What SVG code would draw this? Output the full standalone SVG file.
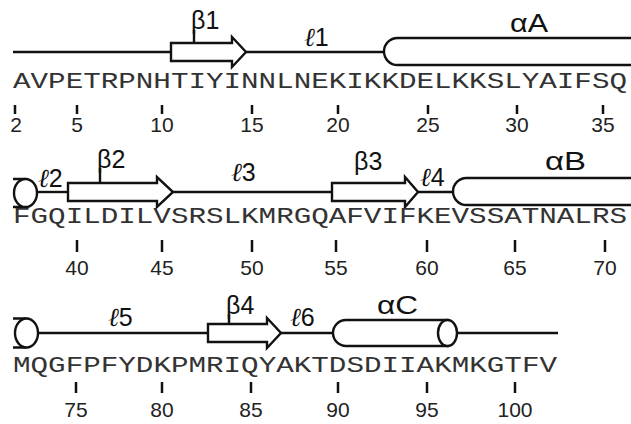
<svg xmlns="http://www.w3.org/2000/svg" width="631" height="424" viewBox="0 0 631 424">
<style>
.ln{stroke:#111;stroke-width:2.4;fill:none}
.sh{stroke:#111;stroke-width:2.4;fill:#fff}
.tk{stroke:#111;stroke-width:2.5}
.seq{font-family:"Liberation Mono","Courier New",monospace;font-size:22px;fill:#333}
.num{font-family:"Liberation Sans",Arial,sans-serif;font-size:21px;fill:#222;text-anchor:middle}
.lab{font-family:"Liberation Sans",Arial,sans-serif;font-size:25px;fill:#111}
.ell{font-family:"DejaVu Serif",serif;font-style:italic;font-size:26px}
</style>
<rect width="631" height="424" fill="#fff"/>
<g id="connectors">
<line class="ln" x1="13" y1="52" x2="171" y2="52"/>
<line class="ln" x1="246" y1="52" x2="384" y2="52"/>
<line class="ln" x1="37" y1="192" x2="68" y2="192"/>
<line class="ln" x1="173" y1="192" x2="332" y2="192"/>
<line class="ln" x1="418" y1="192" x2="453" y2="192"/>
<line class="ln" x1="38" y1="333" x2="208" y2="333"/>
<line class="ln" x1="281" y1="333" x2="333" y2="333"/>
<line class="ln" x1="457" y1="333" x2="558" y2="333"/>
</g>
<g id="beta1"><polygon class="sh" points="171,43 232,43 232,37 246,52 232,67 232,61 171,61"/><line class="ln" x1="194" y1="30" x2="194" y2="43"/><text class="lab" x="191" y="29">β1</text></g>
<g id="l1"><text class="lab" x="304" y="46"><tspan class="ell">ℓ</tspan>1</text></g>
<g id="alphaA"><path class="ln" d="M631,38 L397.5,38 A13.5,13.5 0 0 0 397.5,65 L631,65"/><text class="lab" x="510" y="32" textLength="38" lengthAdjust="spacingAndGlyphs">αA</text></g>
<g id="capB"><path class="ln" d="M13,179 L25.5,179 M13,207 L25.5,207"/><ellipse class="sh" cx="25.5" cy="193" rx="11.5" ry="14"/></g>
<g id="l2"><text class="lab" x="38" y="187"><tspan class="ell">ℓ</tspan>2</text></g>
<g id="beta2"><polygon class="sh" points="68,183 157,183 157,177 173,192 157,207 157,201 68,201"/><line class="ln" x1="100" y1="168" x2="100" y2="183"/><text class="lab" x="97" y="168">β2</text></g>
<g id="l3"><text class="lab" x="231" y="181"><tspan class="ell">ℓ</tspan>3</text></g>
<g id="beta3"><polygon class="sh" points="332,183 405,183 405,177 418,192 405,207 405,201 332,201"/><text class="lab" x="354" y="170">β3</text></g>
<g id="l4"><text class="lab" x="420" y="186"><tspan class="ell">ℓ</tspan>4</text></g>
<g id="alphaB"><path class="ln" d="M631,178 L466.5,178 A13.5,13.5 0 0 0 466.5,205 L631,205"/><text class="lab" x="545" y="170" textLength="41" lengthAdjust="spacingAndGlyphs">αB</text></g>
<g id="capC"><path class="ln" d="M13,318.5 L26.5,318.5 M13,347.5 L26.5,347.5"/><ellipse class="sh" cx="26.5" cy="333" rx="11.5" ry="14.5"/></g>
<g id="l5"><text class="lab" x="108" y="326"><tspan class="ell">ℓ</tspan>5</text></g>
<g id="beta4"><polygon class="sh" points="208,324 267,324 267,318 281,333 267,348 267,342 208,342"/><line class="ln" x1="229" y1="314" x2="229" y2="324"/><text class="lab" x="226" y="314">β4</text></g>
<g id="l6"><text class="lab" x="290" y="326"><tspan class="ell">ℓ</tspan>6</text></g>
<g id="alphaC"><path class="sh" d="M447.5,320 L346,320 A13,13 0 0 0 346,346 L447.5,346 Z"/><ellipse class="sh" cx="447.5" cy="333" rx="9.5" ry="13"/><text class="lab" x="377" y="314" textLength="41" lengthAdjust="spacingAndGlyphs">αC</text></g>
<g id="sequence">
<text class="seq" x="13" y="88" textLength="614" lengthAdjust="spacingAndGlyphs">AVPETRPNHTIYINNLNEKIKKDELKKSLYAIFSQ</text>
<text class="seq" x="13" y="223" textLength="614" lengthAdjust="spacingAndGlyphs">FGQILDILVSRSLKMRGQAFVIFKEVSSATNALRS</text>
<text class="seq" x="13" y="372" textLength="544" lengthAdjust="spacingAndGlyphs">MQGFPFYDKPMRIQYAKTDSDIIAKMKGTFV</text>
</g>
<g id="ticks">
<path class="tk" d="M15,105V114M77,105V114M162,105V114M252,105V114M338,105V114M428,105V114M517,105V114M603,105V114"/>
<path class="tk" d="M77,240V252M162,240V252M252,240V252M336,240V252M427,240V252M515,240V252M605,240V252"/>
<path class="tk" d="M76,382V393M162,382V393M251,382V393M338,382V393M427,382V393M515,382V393"/>
</g>
<g id="numbers">
<text class="num" x="16" y="132">2</text><text class="num" x="77" y="132">5</text><text class="num" x="162" y="132">10</text><text class="num" x="252" y="132">15</text><text class="num" x="338" y="132">20</text><text class="num" x="428" y="132">25</text><text class="num" x="517" y="132">30</text><text class="num" x="603" y="132">35</text>
<text class="num" x="77" y="275">40</text><text class="num" x="162" y="275">45</text><text class="num" x="252" y="275">50</text><text class="num" x="336" y="275">55</text><text class="num" x="427" y="275">60</text><text class="num" x="515" y="275">65</text><text class="num" x="605" y="275">70</text>
<text class="num" x="76" y="417">75</text><text class="num" x="162" y="417">80</text><text class="num" x="251" y="417">85</text><text class="num" x="338" y="417">90</text><text class="num" x="427" y="417">95</text><text class="num" x="515" y="417">100</text>
</g>
</svg>
